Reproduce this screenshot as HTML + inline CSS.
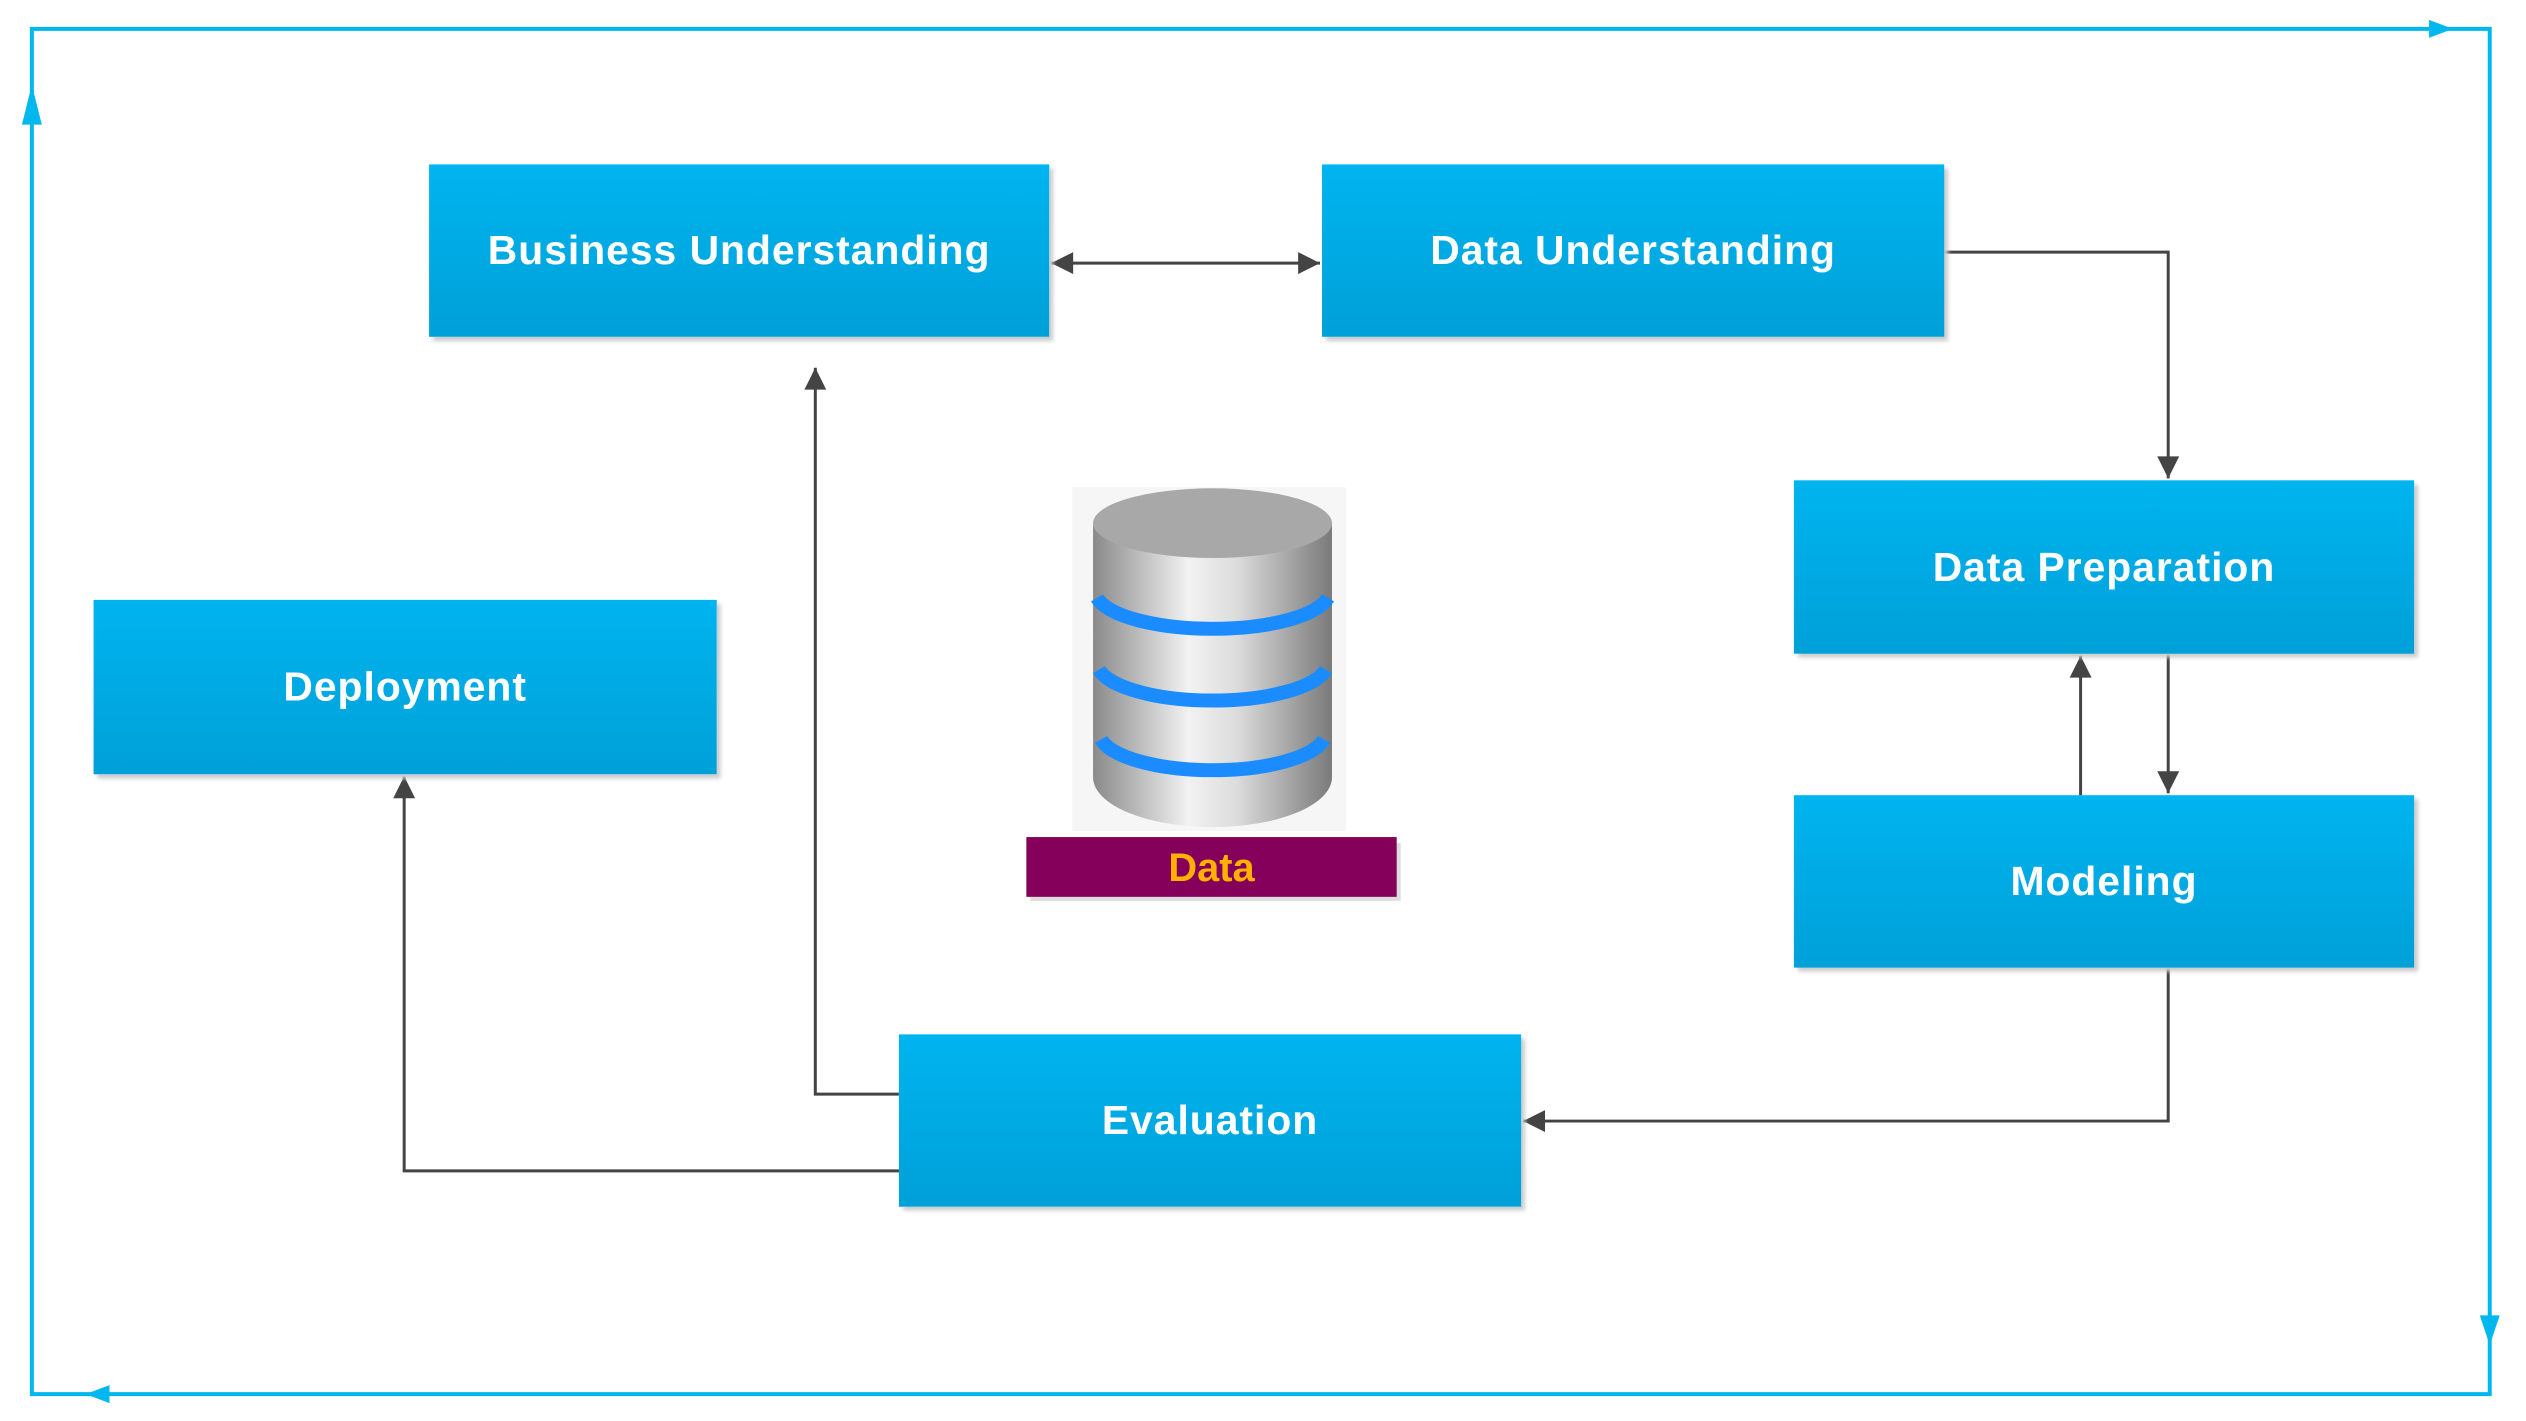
<!DOCTYPE html>
<html><head><meta charset="utf-8"><style>
html,body{margin:0;padding:0;background:#fff;}
body{width:2526px;height:1421px;position:relative;overflow:hidden;font-family:"Liberation Sans",sans-serif;}
#w{position:absolute;left:0;top:0;width:2526px;height:1421px;transform:scale(0.9955,0.9965);transform-origin:0 0;}
.b{position:absolute;background:linear-gradient(#00b4ef,#00a0d8);color:#fff;font-size:41px;font-weight:bold;display:flex;align-items:center;justify-content:center;box-shadow:4px 4px 4px #ccc;letter-spacing:1px;}
</style></head><body><div id="w">
<svg width="2526" height="1421" style="position:absolute;left:0;top:0">
<defs>
<marker id="g" viewBox="0 0 10 10" markerWidth="26" markerHeight="22" refX="10" refY="5" orient="auto" markerUnits="userSpaceOnUse"><path d="M0,0 L10,5 L0,10z" fill="#444"/></marker>
<marker id="gs" viewBox="0 0 10 10" markerWidth="26" markerHeight="22" refX="0" refY="5" orient="auto" markerUnits="userSpaceOnUse"><path d="M10,0 L0,5 L10,10z" fill="#444"/></marker>
<linearGradient id="cy" x1="0" x2="1"><stop offset="0" stop-color="#8a8a8a"/><stop offset="0.4" stop-color="#f2f2f2"/><stop offset="0.6" stop-color="#dcdcdc"/><stop offset="1" stop-color="#7a7a7a"/></linearGradient>
</defs>
<g stroke="#00b8ee" stroke-width="4" fill="none">
<path d="M32,1399 L32,29 L2501,29 L2501,1399 Z"/>
</g>
<g fill="#00b8ee">
<path d="M2440,20 L2464,29 L2440,38z"/>
<path d="M22,125 L32,85 L42,125z"/>
<path d="M2491,1320 L2501,1350 L2511,1320z"/>
<path d="M110,1390 L86,1399 L110,1408z"/>
</g>
<g stroke="#444" stroke-width="3" fill="none">
<line x1="1056" y1="264" x2="1326" y2="264" marker-start="url(#gs)" marker-end="url(#g)"/>
<polyline points="1953,253 2178,253 2178,480" marker-end="url(#g)"/>
<line x1="2178" y1="656" x2="2178" y2="796" marker-end="url(#g)"/>
<line x1="2090" y1="798" x2="2090" y2="658" marker-end="url(#g)"/>
<polyline points="2178,971 2178,1125 1530,1125" marker-end="url(#g)"/>
<polyline points="903,1098 819,1098 819,369" marker-end="url(#g)"/>
<polyline points="903,1175 406,1175 406,779" marker-end="url(#g)"/>
</g>
<rect x="1077" y="489" width="275" height="345" fill="#f6f6f6"/>
<path d="M1098,525 L1098,780 A120,50 0 0 0 1338,780 L1338,525 Z" fill="url(#cy)"/>
<ellipse cx="1218" cy="525" rx="120" ry="35" fill="#a8a8a8"/>
<g stroke="#1a8cff" stroke-width="14" fill="none">
<path d="M1102,600 A118,38 0 0 0 1334,600"/>
<path d="M1104,672 A116,38 0 0 0 1332,672"/>
<path d="M1106,742 A114,38 0 0 0 1330,742"/>
</g>
<rect x="1035" y="846" width="372" height="58" fill="#ddd"/>
<rect x="1031" y="840" width="372" height="60" fill="#85005a"/>
<text x="1217" y="884" text-anchor="middle" font-family="Liberation Sans" font-weight="bold" font-size="40" fill="#ffb000">Data</text>
</svg>
<div class="b" style="left:431px;top:165px;width:623px;height:173px">Business Understanding</div>
<div class="b" style="left:1328px;top:165px;width:625px;height:173px">Data Understanding</div>
<div class="b" style="left:1802px;top:482px;width:623px;height:174px">Data Preparation</div>
<div class="b" style="left:1802px;top:798px;width:623px;height:173px">Modeling</div>
<div class="b" style="left:94px;top:602px;width:626px;height:175px">Deployment</div>
<div class="b" style="left:903px;top:1038px;width:625px;height:173px">Evaluation</div>
</div></body></html>
